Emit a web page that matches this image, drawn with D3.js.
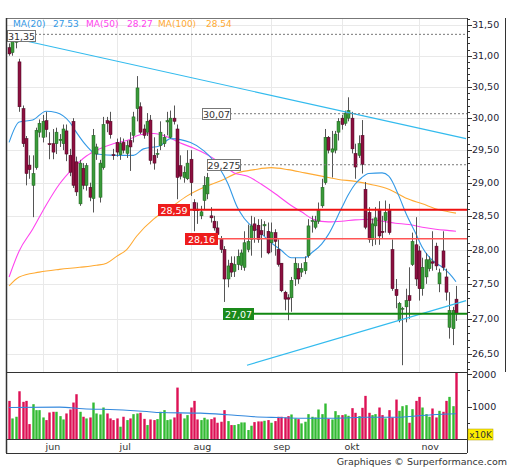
<!DOCTYPE html>
<html><head><meta charset="utf-8">
<script src="https://cdn.jsdelivr.net/npm/d3@7"></script>
<style>
html,body{margin:0;padding:0;background:#fff;}
svg{display:block;font-family:"DejaVu Sans",Verdana,sans-serif;}
</style></head><body>
<svg id="c" width="512" height="470"></svg>
<script>
// ---------- DATA ----------
const opens = [31.13,31.05,31.22,30.90,30.15,29.68,29.27,28.96,29.23,29.78,29.70,29.96,29.60,29.60,29.60,29.65,29.60,29.80,29.42,29.95,
29.32,28.68,29.22,28.96,28.93,28.76,29.44,28.78,29.23,29.96,29.95,29.43,29.62,29.43,29.62,29.45,29.65,29.73,30.15,30.18,
29.83,29.78,29.97,29.42,29.44,29.57,29.60,29.94,29.70,30.00,29.83,29.26,29.08,29.06,29.36,28.70,28.60,28.50,28.73,28.83,
28.50,28.42,28.32,28.15,28.00,27.57,27.80,27.68,27.78,27.77,27.74,28.00,28.15,28.38,28.36,28.28,28.35,28.27,28.10,28.25,
28.00,27.80,27.38,27.30,27.30,27.57,27.72,27.67,27.69,27.91,28.42,28.33,28.42,28.65,29.00,29.70,29.47,29.50,29.78,30.00,
29.92,30.00,30.00,29.45,29.42,29.73,28.90,28.55,28.15,28.35,28.60,28.27,28.43,28.58,28.00,27.42,26.98,27.14,27.17,27.33,
27.78,28.07,27.98,27.43,27.60,27.72,27.82,28.05,27.50,27.98,27.60,26.88,26.86,27.28];
const highs = [31.20,31.28,31.35,30.95,30.20,29.72,29.42,29.42,29.85,29.98,30.05,30.10,29.78,29.83,29.85,29.75,29.90,29.90,29.52,30.00,
29.40,29.35,29.30,29.30,29.00,29.83,29.60,29.35,30.02,30.02,30.10,29.52,29.68,29.70,29.68,29.65,29.78,30.10,30.67,30.25,
29.90,30.08,30.05,29.70,29.52,29.95,29.75,30.10,30.12,30.20,29.90,29.42,29.25,29.50,29.50,28.75,28.70,28.65,29.10,29.15,
28.63,28.50,28.42,28.20,28.05,27.85,27.90,27.90,28.00,28.00,28.27,28.37,28.50,28.48,28.45,28.45,28.42,28.40,28.40,28.30,
28.15,27.80,27.40,27.35,27.60,27.88,27.80,27.80,27.90,28.45,28.50,28.50,28.70,29.06,29.83,29.72,29.80,29.80,30.00,30.05,
30.12,30.33,30.10,29.60,29.73,29.97,29.01,28.63,28.46,28.63,28.72,28.50,28.73,28.68,28.15,27.57,27.24,27.17,27.43,27.74,
28.25,28.48,28.05,27.88,27.95,27.90,28.27,28.10,27.72,28.27,27.72,27.38,27.17,27.47];
const lows = [31.00,31.00,31.12,30.10,29.55,28.96,29.06,28.48,29.20,29.70,29.62,29.70,29.36,29.36,29.44,29.55,29.50,29.33,29.10,28.92,
28.80,28.65,28.90,28.88,28.72,28.55,29.35,28.70,29.20,29.78,29.68,29.35,29.40,29.35,29.45,29.38,29.18,29.62,29.95,29.75,
29.68,29.72,29.28,29.20,29.38,29.50,29.55,29.73,29.68,29.90,28.75,29.05,29.00,29.04,28.80,28.27,28.38,28.45,28.60,28.75,
28.40,28.28,28.10,27.95,27.24,27.45,27.60,27.60,27.70,27.70,27.69,27.96,27.91,28.10,28.10,27.88,28.20,27.93,27.96,27.91,
27.75,27.38,27.12,26.98,27.10,27.47,27.50,27.60,27.64,27.88,28.25,28.30,28.38,28.62,28.97,29.45,29.08,29.45,29.65,29.82,
29.88,29.95,29.45,29.06,29.38,29.14,28.30,28.10,28.05,28.07,28.07,28.17,28.25,28.22,27.40,27.15,26.95,26.35,26.95,27.00,
27.76,27.47,27.26,27.33,27.50,27.68,27.69,27.70,27.38,27.69,27.26,26.72,26.63,26.97];
const closes = [31.03,31.24,31.25,30.18,29.60,29.14,29.20,29.14,29.81,29.92,29.95,29.82,29.59,29.47,29.78,29.67,29.83,29.44,29.16,28.96,
28.86,29.30,28.96,29.26,28.78,29.73,29.55,29.30,29.90,29.92,29.74,29.42,29.47,29.60,29.50,29.57,29.55,30.02,30.48,29.78,
29.73,29.95,29.34,29.30,29.45,29.78,29.70,29.96,30.00,29.95,29.08,29.10,29.16,29.30,29.00,28.58,28.58,28.56,28.96,29.08,
28.47,28.32,28.22,28.00,27.57,27.76,27.67,27.78,27.90,27.95,28.10,28.12,28.35,28.28,28.15,28.22,28.37,27.95,28.25,28.12,
27.78,27.40,27.28,27.28,27.55,27.80,27.57,27.72,27.81,28.35,28.43,28.42,28.58,28.93,29.70,29.50,29.52,29.75,29.95,29.90,
30.08,30.12,29.52,29.24,29.60,29.28,28.33,28.15,28.38,28.47,28.20,28.25,28.55,28.25,27.43,27.33,27.22,27.15,27.26,27.26,
28.12,27.57,27.43,27.74,27.85,27.85,27.80,27.76,27.66,27.74,27.38,27.12,27.12,27.07];
const volumes = [1173,633,684,1469,1143,1173,459,1071,888,888,663,582,816,837,837,704,602,786,908,1122,
1378,837,684,633,663,1122,786,755,969,786,633,582,633,378,684,582,633,765,786,806,
620,429,602,582,612,837,888,582,602,663,1582,786,633,735,969,1173,602,582,653,602,
612,663,500,531,888,551,429,429,459,510,510,276,408,520,541,540,561,582,500,551,
684,684,663,704,755,633,612,480,531,765,684,663,908,765,1092,622,602,857,735,735,
760,714,949,806,704,959,1327,806,735,765,969,735,633,888,663,1214,867,1010,1041,500,
918,1173,1296,969,765,684,939,663,867,837,1173,1296,1010,2040];
const ma20 = [[0,29.62],[3,29.94],[7,29.97],[11,30.11],[14,30.09],[18,29.94],[20,29.78],[23,29.57],[26,29.44],[32,29.42],
[37,29.42],[40,29.52],[45,29.57],[48,29.68],[54,29.62],[58,29.49],[61,29.33],[63,29.19],[65,29.00],[68,28.62],[70,28.46],
[75,28.24],[78,28.10],[81,27.99],[84,27.88],[88,27.88],[90,27.95],[93,28.08],[95,28.22],[99,28.62],[101,28.82],[103,28.98],
[105,29.08],[107,29.14],[111,29.15],[113,29.10],[116,28.80],[118,28.55],[121,28.24],[123,28.03],[126,27.84],[129,27.74],
[131,27.65],[133,27.53]];
const ma50 = [[0,27.60],[3,27.98],[7,28.30],[11,28.66],[15,28.98],[19,29.22],[23,29.41],[27,29.52],[31,29.60],[35,29.65],
[39,29.74],[43,29.76],[47,29.71],[51,29.61],[55,29.53],[59,29.43],[63,29.30],[67,29.15],[71,29.10],[75,28.98],[79,28.84],
[83,28.69],[87,28.56],[91,28.44],[95,28.41],[99,28.42],[103,28.44],[107,28.45],[111,28.42],[115,28.39],[119,28.37],
[123,28.33],[127,28.30],[131,28.28],[133,28.27]];
const ma100 = [[0,27.47],[3,27.60],[9,27.67],[15,27.71],[21,27.74],[26,27.77],[29,27.80],[32,27.90],[35,28.00],[38,28.20],
[43,28.45],[48,28.62],[53,28.80],[58,28.93],[63,29.03],[68,29.15],[73,29.20],[78,29.23],[83,29.20],[88,29.15],[93,29.10],
[98,29.05],[103,29.02],[108,28.97],[113,28.90],[118,28.77],[123,28.68],[128,28.59],[133,28.54]];
const volMA = [[0,970],[15,980],[22,930],[32,900],[41,845],[45,815],[57,795],[65,745],[72,690],[80,660],[87,640],[96,640],
[107,670],[116,670],[121,710],[126,745],[133,775]];
const trendUp = [[1,31.29],[136,29.68]];
const trendDown = [[70.8,26.35],[136,27.26]];
const levelValues = [31.35, 30.07, 29.275, 28.59, 28.16, 27.07];
const monthLabels = ["jun","jul","aug","sep","okt","nov"];
const monthStarts = [10, 32, 54, 78, 99, 122];
const priceTicks = [26.5,27,27.5,28,28.5,29,29.5,30,30.5,31,31.5];
const volTicks = [1000, 2000];
const legendNames = ["MA(20)","MA(50)","MA(100)"];
const legendValues = ["27.53","28.27","28.54"];

// ---------- LAYOUT ----------
const svg = d3.select("#c");
const L = 6, R = 467, AX = 505;
const pTop = 18, pBot = 372, vTop = 372, vBot = 439, mBot = 453;
const N = closes.length;
const x = d3.scaleLinear().domain([0, 133]).range([9.1, 9.1 + 3.36 * 133]);
const y = d3.scaleLog().domain([26.27, 31.62]).range([371, 18]);
const yv = d3.scaleLinear().domain([0, 2000]).range([vBot, 374]);
const fmt = v => d3.format(".2f")(v).replace(".", ",");

const defs = svg.append("defs");
defs.append("clipPath").attr("id","cp").append("rect").attr("x",L).attr("y",pTop).attr("width",R-L).attr("height",pBot-pTop);
defs.append("clipPath").attr("id","cv").append("rect").attr("x",L).attr("y",vTop).attr("width",R-L).attr("height",vBot-vTop);

// gridlines
const g = svg.append("g").attr("clip-path","url(#cp)");
g.selectAll("line.hg").data(priceTicks).join("line")
  .attr("x1",L).attr("x2",R).attr("y1",d=>Math.round(y(d))+0.5).attr("y2",d=>Math.round(y(d))+0.5)
  .attr("stroke","#e9e9e9");
g.selectAll("line.vg").data(monthStarts).join("line")
  .attr("x1",d=>Math.round(x(d))+0.5).attr("x2",d=>Math.round(x(d))+0.5).attr("y1",pTop).attr("y2",pBot)
  .attr("stroke","#e9e9e9");

// MA lines
const lineP = d3.line().x(d=>x(d[0])).y(d=>y(d[1])).curve(d3.curveMonotoneX);
g.append("path").attr("d",lineP(ma100)).attr("fill","none").attr("stroke","#ffaa33").attr("stroke-width",1.1);
g.append("path").attr("d",lineP(ma50)).attr("fill","none").attr("stroke","#ff44ee").attr("stroke-width",1.1);
g.append("path").attr("d",lineP(ma20)).attr("fill","none").attr("stroke","#3399e6").attr("stroke-width",1.1);

// candles
const cg = g.append("g");
for (let i = 0; i < N; i++) {
  const cx = Math.round(x(i)) + 0.5;
  const up = closes[i] >= opens[i];
  cg.append("line").attr("x1",cx).attr("x2",cx).attr("y1",y(highs[i])).attr("y2",y(lows[i]))
    .attr("stroke", "#555").attr("stroke-width",1);
  const t = y(Math.max(opens[i],closes[i])), b = y(Math.min(opens[i],closes[i]));
  cg.append("rect").attr("x",cx-1.5).attr("y",t).attr("width",3).attr("height",Math.max(1,b-t))
    .attr("fill", up ? "#3a9a3a" : "#8c1040").attr("stroke", up ? "#1f5f1f" : "#4a0520").attr("stroke-width",0.5);
}

// trend lines
const lineT = d3.line().x(d=>x(d[0])).y(d=>y(d[1]));
g.append("path").attr("d",lineT(trendUp)).attr("stroke","#33bbee").attr("stroke-width",1.2).attr("fill","none");
g.append("path").attr("d",lineT(trendDown)).attr("stroke","#33bbee").attr("stroke-width",1.2).attr("fill","none");

// level lines + labels
const levelStyle = [
  {kind:"dash", bx:7, bw:28, dy:1},
  {kind:"dash", bx:202, bw:28, dy:0},
  {kind:"dash", bx:207, bw:33, dy:0},
  {kind:"red", bx:158, bw:31, dy:0},
  {kind:"red2", bx:185, bw:32, dy:0},
  {kind:"green", bx:223, bw:30, dy:0}
];
levelValues.forEach((v,k) => {
  const s = levelStyle[k];
  const ly = y(v);
  const ln = g.append("line").attr("x1",s.bx+s.bw).attr("x2",R).attr("y1",ly).attr("y2",ly);
  if (s.kind==="dash") ln.attr("stroke","#777").attr("stroke-dasharray","2,2");
  else if (s.kind==="red") ln.attr("stroke","#ee1111").attr("stroke-width",2);
  else if (s.kind==="red2") ln.attr("stroke","#ff5555").attr("stroke-width",1.5);
  else ln.attr("stroke","#118811").attr("stroke-width",2);
  const fill = s.kind==="dash" ? "#fff" : (s.kind==="green" ? "#1a8a1a" : "#ee1c1c");
  const top = Math.round(ly - 5.5 + s.dy) + 0.5;
  g.append("rect").attr("x",s.bx+0.5).attr("y",top).attr("width",s.bw).attr("height",11)
    .attr("fill",fill).attr("stroke", s.kind==="dash" ? "#777" : fill);
  g.append("text").attr("x",s.bx+s.bw/2+0.5).attr("y",top+9).attr("text-anchor","middle")
    .attr("font-size","9.5px").attr("fill", s.kind==="dash" ? "#333" : "#fff")
    .text(String(v).replace(".",","));
});

// legend
const legColors = ["#3399e6","#ff44ee","#ffaa33"];
const legX = [13, 86, 158], legVX = [53, 127, 206];
legendNames.forEach((n,k) => {
  svg.append("text").attr("x",legX[k]).attr("y",27).attr("font-size","9px").attr("fill",legColors[k]).text(n);
  svg.append("text").attr("x",legVX[k]).attr("y",27).attr("font-size","9px").attr("fill",legColors[k]).text(legendValues[k]);
});

// volume
const vg = svg.append("g").attr("clip-path","url(#cv)");
vg.selectAll("rect").data(volumes).join("rect")
  .attr("x",(d,i)=>Math.round(x(i))-0.7).attr("width",2.4)
  .attr("y",d=>yv(d)).attr("height",d=>vBot-yv(d))
  .attr("fill",(d,i)=> closes[i]>=opens[i] ? "#33bb33" : "#dd1155");
vg.append("path").attr("d", d3.line().x(d=>x(d[0])).y(d=>yv(d[1])).curve(d3.curveMonotoneX)(volMA))
  .attr("fill","none").attr("stroke","#3388dd").attr("stroke-width",1.1);

// frame
const fr = svg.append("g").attr("fill","none").attr("stroke","#333");
fr.append("line").attr("x1",L).attr("x2",R).attr("y1",pTop+0.5).attr("y2",pTop+0.5).attr("stroke","#777");
fr.append("line").attr("x1",L+0.5).attr("x2",L+0.5).attr("y1",pTop).attr("y2",mBot).attr("stroke-width",1.5);
fr.append("line").attr("x1",R+0.5).attr("x2",R+0.5).attr("y1",pTop).attr("y2",mBot);
fr.append("line").attr("x1",AX+0.5).attr("x2",AX+0.5).attr("y1",pTop).attr("y2",vTop);
fr.append("line").attr("x1",L).attr("x2",R).attr("y1",vTop+0.5).attr("y2",vTop+0.5);
fr.append("line").attr("x1",L).attr("x2",R).attr("y1",vBot+0.5).attr("y2",vBot+0.5);
fr.append("line").attr("x1",L).attr("x2",R).attr("y1",mBot+0.5).attr("y2",mBot+0.5);

// price axis
const minor = d3.range(26.3, 31.65, 0.1);
svg.selectAll("line.mt").data(minor).join("line")
  .attr("x1",R).attr("x2",R+3).attr("y1",d=>Math.round(y(d))+0.5).attr("y2",d=>Math.round(y(d))+0.5).attr("stroke","#333");
svg.selectAll("line.Mt").data(priceTicks).join("line")
  .attr("x1",R).attr("x2",R+5).attr("y1",d=>Math.round(y(d))+0.5).attr("y2",d=>Math.round(y(d))+0.5).attr("stroke","#333");
svg.selectAll("text.pt").data(priceTicks).join("text")
  .attr("x",R+5).attr("y",d=>y(d)+3).attr("font-size","9.5px").attr("fill","#223").text(fmt);

// volume axis
svg.selectAll("line.vt").data([500,1000,1500,2000]).join("line")
  .attr("x1",R).attr("x2",d=> d%1000===0 ? R+5 : R+3).attr("y1",d=>Math.round(yv(d))+0.5).attr("y2",d=>Math.round(yv(d))+0.5).attr("stroke","#333");
svg.selectAll("text.vtl").data(volTicks).join("text")
  .attr("x",R+5).attr("y",d=>yv(d)+3.5).attr("font-size","9.5px").attr("fill","#223").text(d=>d);
svg.append("rect").attr("x",468).attr("y",429).attr("width",25).attr("height",11).attr("fill","#ffee00").attr("stroke","#aa9900").attr("stroke-width",0.5);
svg.append("text").attr("x",480.5).attr("y",438).attr("text-anchor","middle").attr("font-size","9px").attr("fill","#333").text("x10K");

// month labels
svg.selectAll("text.mo").data(monthLabels).join("text")
  .attr("x",(d,i)=>Math.round(x(monthStarts[i]))+2.5).attr("y",450).attr("font-size","9.5px").attr("fill","#333").text(d=>d);

// footer
svg.append("text").attr("x",507).attr("y",465).attr("text-anchor","end").attr("font-size","9.5px").attr("fill","#333")
  .text("Graphiques \u00a9 Surperformance.com");
</script>
</body></html>
